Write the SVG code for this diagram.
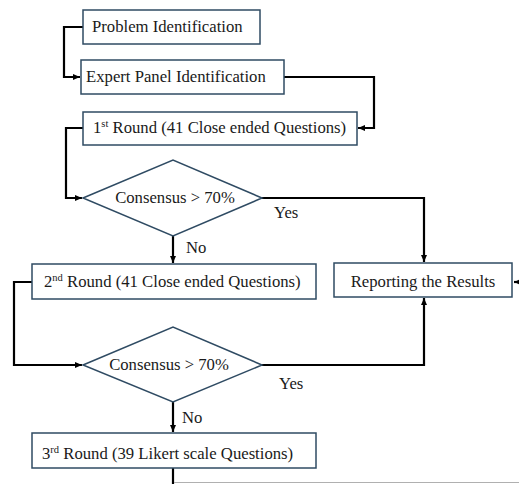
<svg xmlns="http://www.w3.org/2000/svg" width="519" height="484" viewBox="0 0 519 484">
<defs>
<marker id="ah" markerUnits="userSpaceOnUse" markerWidth="8" markerHeight="8" viewBox="0 0 8 8" refX="7" refY="4" orient="auto">
<path d="M0,1 L7,4 L0,7 Z" fill="#000"/>
</marker>
<style>
.box{fill:#fff;stroke:#2f4b63;stroke-width:1.5}
.t{font-family:"Liberation Serif","Times New Roman",serif;font-size:16.7px;fill:#1a1a1a}
.sup{font-size:10.5px}
.c{fill:none;stroke:#000;stroke-width:2.2}
</style>
</defs>
<rect width="519" height="484" fill="#fff"/>
<g id="connectors">
<path class="c" d="M83,27 H64 V77 H80" marker-end="url(#ah)"/>
<path class="c" d="M284,77 H374 V128 H358" marker-end="url(#ah)"/>
<path class="c" d="M83,128 H66 V198 H82" marker-end="url(#ah)"/>
<path class="c" d="M262,198 H424 V262" marker-end="url(#ah)"/>
<path class="c" d="M173,236 V263" marker-end="url(#ah)"/>
<path class="c" d="M32,282 H14 V365 H82" marker-end="url(#ah)"/>
<path class="c" d="M262,365 H424 V298" marker-end="url(#ah)"/>
<path class="c" d="M173,402 V432" marker-end="url(#ah)"/>
<path class="c" d="M519,282 H514" marker-end="url(#ah)"/>
<path class="c" d="M173,468 V484"/>
<path d="M174,482.5 H519" stroke="#b0b0b0" stroke-width="1" fill="none"/>
<text class="t" x="274" y="218">Yes</text>
<text class="t" x="186" y="253">No</text>
<text class="t" x="279" y="389">Yes</text>
<text class="t" x="182" y="423">No</text>
</g>
<g id="problem">
<rect class="box" x="83" y="10" width="177" height="34"/>
<text class="t" x="92" y="32">Problem Identification</text>
</g>
<g id="expert">
<rect class="box" x="81" y="60" width="203" height="34"/>
<text class="t" x="86" y="82">Expert Panel Identification</text>
</g>
<g id="round1">
<rect class="box" x="83" y="112" width="274" height="33"/>
<text class="t" x="93" y="133">1<tspan class="sup" dy="-6">st</tspan><tspan dy="6"> Round (41 Close ended Questions)</tspan></text>
</g>
<g id="decision1">
<polygon class="box" points="83,198 173,160 262,198 173,236"/>
<text class="t" x="175" y="203" text-anchor="middle">Consensus &gt; 70%</text>
</g>
<g id="round2">
<rect class="box" x="32" y="264" width="284" height="35"/>
<text class="t" x="44" y="287">2<tspan class="sup" dy="-6">nd</tspan><tspan dy="6"> Round (41 Close ended Questions)</tspan></text>
</g>
<g id="report">
<rect class="box" x="334" y="263" width="178" height="34"/>
<text class="t" x="423" y="287" text-anchor="middle">Reporting the Results</text>
</g>
<g id="decision2">
<polygon class="box" points="83,365 173,327 262,365 173,402"/>
<text class="t" x="169" y="370" text-anchor="middle">Consensus &gt; 70%</text>
</g>
<g id="round3">
<rect class="box" x="32" y="433" width="284" height="35"/>
<text class="t" x="42" y="459">3<tspan class="sup" dy="-6">rd</tspan><tspan dy="6"> Round (39 Likert scale Questions)</tspan></text>
</g>
</svg>
